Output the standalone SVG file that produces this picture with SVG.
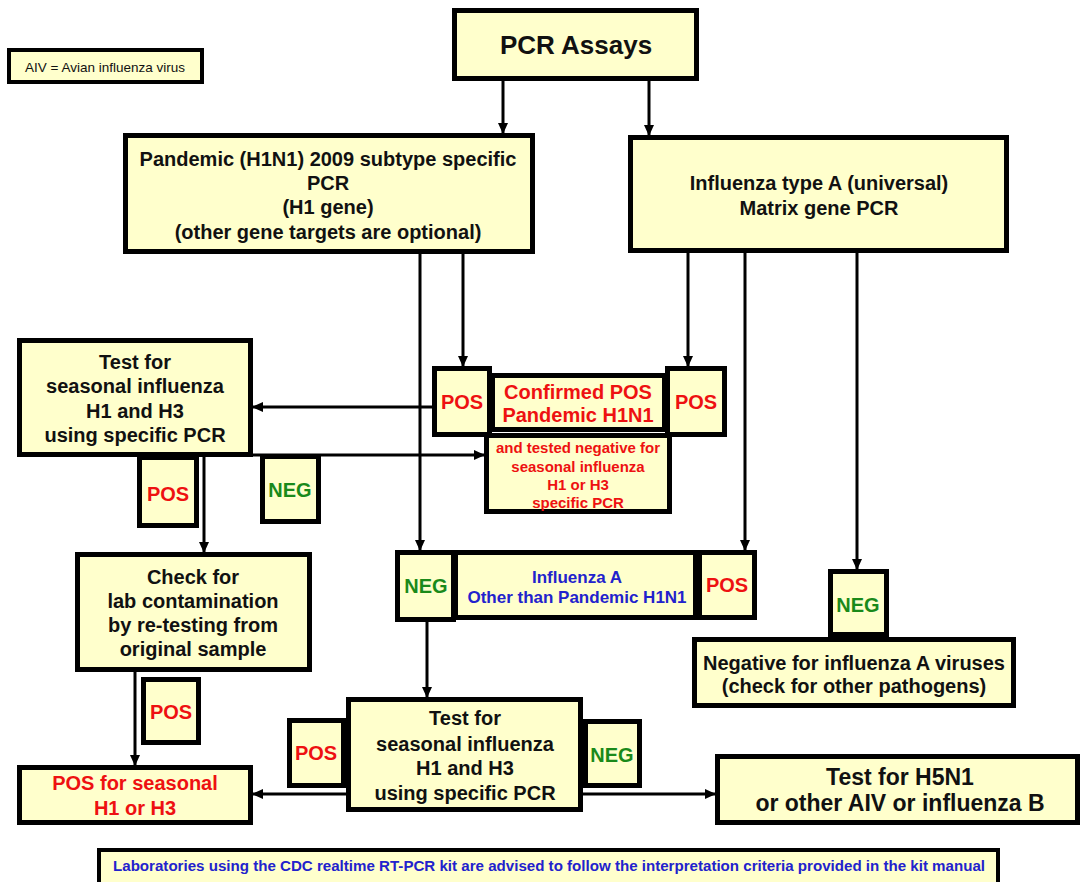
<svg xmlns="http://www.w3.org/2000/svg" width="1082" height="882" viewBox="0 0 1082 882">
<defs>
<style>
.box{fill:#FFFFCC;stroke:#000;stroke-width:5}
.thin{fill:#FFFFCC;stroke:#000;stroke-width:4}
text{font-family:"Liberation Sans",Arial,sans-serif;font-weight:bold;text-anchor:middle;fill:#111}
.t20{font-size:20px}
.red{fill:#EE1111}
.grn{fill:#1A8A1A}
.blu{fill:#2222CC}
.conn{stroke:#000;stroke-width:3;fill:none;marker-end:url(#ah)}
</style>
<marker id="ah" markerWidth="11" markerHeight="10" refX="10" refY="5" orient="auto" markerUnits="userSpaceOnUse">
<path d="M0,0 L11,5 L0,10 Z" fill="#000"/>
</marker>
</defs>
<rect width="1082" height="882" fill="#fff"/>

<g id="legend">
<rect class="thin" x="9" y="50" width="193" height="32"/>
<text x="105" y="72" style="font-size:13.5px;font-weight:normal">AIV = Avian influenza virus</text>
</g>

<g id="pcr">
<rect class="box" x="454.5" y="10.5" width="242" height="68"/>
<text x="576" y="54" style="font-size:26px">PCR Assays</text>
</g>

<g id="pandemic">
<rect class="box" x="125.5" y="135.5" width="407" height="116"/>
<text class="t20" x="328" y="166">Pandemic (H1N1) 2009 subtype specific</text>
<text class="t20" x="328" y="190">PCR</text>
<text class="t20" x="328" y="214">(H1 gene)</text>
<text class="t20" x="328" y="239">(other gene targets are optional)</text>
</g>

<g id="infA">
<rect class="box" x="630.5" y="137.5" width="376" height="113"/>
<text class="t20" x="819" y="190">Influenza type A (universal)</text>
<text class="t20" x="819" y="215">Matrix gene PCR</text>
</g>

<g id="testTop">
<rect class="box" x="19.5" y="340.5" width="231" height="114"/>
<text class="t20" x="135" y="369">Test for</text>
<text class="t20" x="135" y="393">seasonal influenza</text>
<text class="t20" x="135" y="418">H1 and H3</text>
<text class="t20" x="135" y="442">using specific PCR</text>
</g>

<g id="posUL">
<rect class="box" x="434.5" y="368.5" width="55" height="66"/>
<text class="t20 red" x="462" y="409">POS</text>
</g>

<g id="confirmed">
<rect class="box" x="492.5" y="375.5" width="172" height="54"/>
<text class="t20 red" x="578" y="399">Confirmed POS</text>
<text class="t20 red" x="578" y="422">Pandemic H1N1</text>
</g>

<g id="posUR">
<rect class="box" x="667.5" y="368.5" width="57" height="66"/>
<text class="t20 red" x="696" y="409">POS</text>
</g>

<g id="testedNeg">
<rect class="box" x="486.5" y="435.5" width="183" height="76"/>
<text class="red" x="578" y="453" style="font-size:15px">and tested negative for</text>
<text class="red" x="578" y="472" style="font-size:15px">seasonal influenza</text>
<text class="red" x="578" y="490" style="font-size:15px">H1 or H3</text>
<text class="red" x="578" y="508" style="font-size:15px">specific PCR</text>
</g>

<g id="posA">
<rect class="box" x="139.5" y="457.5" width="57" height="68"/>
<text class="t20 red" x="168" y="501">POS</text>
</g>

<g id="negA">
<rect class="box" x="262.5" y="456.5" width="56" height="65"/>
<text class="t20 grn" x="290" y="497">NEG</text>
</g>

<g id="check">
<rect class="box" x="77.5" y="554.5" width="232" height="115"/>
<text class="t20" x="193" y="584">Check for</text>
<text class="t20" x="193" y="608">lab contamination</text>
<text class="t20" x="193" y="632">by re-testing from</text>
<text class="t20" x="193" y="656">original sample</text>
</g>

<g id="negMid">
<rect class="box" x="397.5" y="552.5" width="56" height="67"/>
<text class="t20 grn" x="426" y="593">NEG</text>
</g>

<g id="otherA">
<rect class="box" x="455.5" y="552.5" width="240" height="65"/>
<text class="blu" x="577" y="583" style="font-size:17px">Influenza A</text>
<text class="blu" x="577" y="603" style="font-size:17px">Other than Pandemic H1N1</text>
</g>

<g id="posOther">
<rect class="box" x="699.5" y="552.5" width="55" height="65"/>
<text class="t20 red" x="727" y="592">POS</text>
</g>

<g id="negR">
<rect class="box" x="830.5" y="571.5" width="56" height="63"/>
<text class="t20 grn" x="858" y="612">NEG</text>
</g>

<g id="negative">
<rect class="box" x="694.5" y="639.5" width="319" height="66"/>
<text class="t20" x="854" y="670">Negative for influenza A viruses</text>
<text class="t20" x="854" y="693">(check for other pathogens)</text>
</g>

<g id="posB">
<rect class="box" x="143.5" y="679.5" width="55" height="63"/>
<text class="t20 red" x="171" y="719">POS</text>
</g>

<g id="posSeasonal">
<rect class="box" x="19.5" y="767.5" width="231" height="55"/>
<text class="t20 red" x="135" y="790">POS for seasonal</text>
<text class="t20 red" x="135" y="815">H1 or H3</text>
</g>

<g id="posC">
<rect class="box" x="289.5" y="720.5" width="54" height="65"/>
<text class="t20 red" x="316" y="760">POS</text>
</g>

<g id="testBottom">
<rect class="box" x="348.5" y="699.5" width="232" height="110"/>
<text class="t20" x="465" y="725">Test for</text>
<text class="t20" x="465" y="751">seasonal influenza</text>
<text class="t20" x="465" y="775">H1 and H3</text>
<text class="t20" x="465" y="800">using specific PCR</text>
</g>

<g id="negC">
<rect class="box" x="585.5" y="721.5" width="54" height="64"/>
<text class="t20 grn" x="612" y="762">NEG</text>
</g>

<g id="h5n1">
<rect class="box" x="717.5" y="756.5" width="360" height="66"/>
<text x="900" y="785" style="font-size:23px">Test for H5N1</text>
<text x="900" y="811" style="font-size:23px">or other AIV or influenza B</text>
</g>

<g id="footer">
<rect class="thin" x="99" y="850" width="899" height="40"/>
<text class="blu" x="549" y="871" style="font-size:14px" textLength="872" lengthAdjust="spacingAndGlyphs">Laboratories using the CDC realtime RT-PCR kit are advised to follow the interpretation criteria provided in the kit manual</text>
</g>

<g id="connectors">
<path class="conn" d="M503,81 V133"/>
<path class="conn" d="M649,81 V135"/>
<path class="conn" d="M463,254 V366"/>
<path class="conn" d="M420,254 V550"/>
<path class="conn" d="M688,253 V366"/>
<path class="conn" d="M745,253 V550"/>
<path class="conn" d="M857,253 V569"/>
<path class="conn" d="M432,407 H253"/>
<path class="conn" d="M253,455 H484"/>
<path class="conn" d="M204,457 V552"/>
<path class="conn" d="M135,672 V765"/>
<path class="conn" d="M427,622 V697"/>
<path class="conn" d="M346,794 H253"/>
<path class="conn" d="M583,794 H715"/>
</g>
</svg>
